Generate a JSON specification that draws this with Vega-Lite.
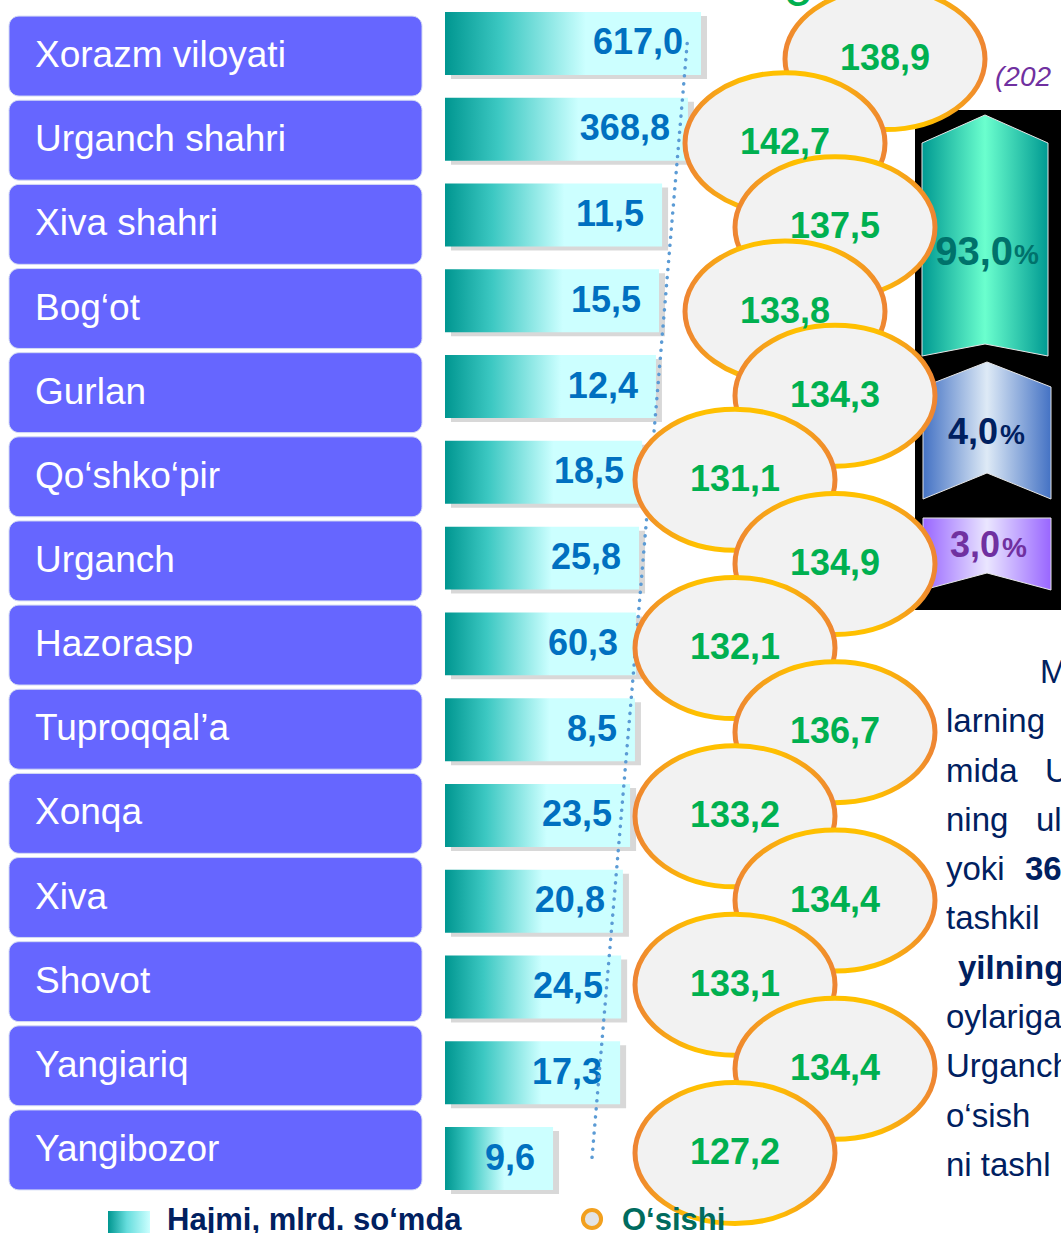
{
"$schema":"https://vega.github.io/schema/vega-lite/v6.json",
"width":1061,"height":1233,"padding":0,"autosize":{"type":"none"},"background":"#FFFFFF",
"config":{"view":{"stroke":null},"axis":{"disable":true},"font":"Liberation Sans","locale":{"number":{"decimal":",","thousands":"\u00a0","grouping":[3],"currency":["",""]}}},
"datasets":{
"rows":[
{"region":"Xorazm viloyati","hajm":617.0,"osish":138.9,"bar":100},
{"region":"Urganch  shahri","hajm":368.8,"osish":142.7,"bar":94.9},
{"region":"Xiva shahri","hajm":11.5,"osish":137.5,"bar":84.8},
{"region":"Bog‘ot","hajm":15.5,"osish":133.8,"bar":83.6},
{"region":"Gurlan","hajm":12.4,"osish":134.3,"bar":82.4},
{"region":"Qo‘shko‘pir","hajm":18.5,"osish":131.1,"bar":77.0},
{"region":"Urganch","hajm":25.8,"osish":134.9,"bar":75.8},
{"region":"Hazorasp","hajm":60.3,"osish":132.1,"bar":74.6},
{"region":"Tuproqqal’a","hajm":8.5,"osish":136.7,"bar":74.2},
{"region":"Xonqa","hajm":23.5,"osish":133.2,"bar":72.3},
{"region":"Xiva","hajm":20.8,"osish":134.4,"bar":69.5},
{"region":"Shovot","hajm":24.5,"osish":133.1,"bar":68.8},
{"region":"Yangiariq","hajm":17.3,"osish":134.4,"bar":68.4},
{"region":"Yangibozor","hajm":9.6,"osish":127.2,"bar":42.2}
],
"trend":[{"region":"Xorazm viloyati","t":94.6},{"region":"Yangibozor","t":57.4}],
"shares":[{"group":"a","share":93.0},{"group":"b","share":4.0},{"group":"c","share":3.0}]
},
"resolve":{"scale":{"x":"independent","y":"independent"}},
"layer":[
{
"layer":[
{"data":{"values":[{}]},"mark":{"type":"rect","fill":"#000000"},
 "encoding":{"x":{"datum":915,"type":"quantitative","scale":{"domain":[0,1061],"nice":false,"zero":false},"axis":null},"x2":{"datum":1075},
 "y":{"datum":110,"type":"quantitative","scale":{"domain":[0,1233],"nice":false,"zero":false,"reverse":true},"axis":null},"y2":{"datum":610}}},
{"data":{"name":"shares"},"transform":[{"filter":{"field":"group","equal":"a"}}],
 "mark":{"type":"point","shape":"M-1,-1.468L0,-1.913L1,-1.468L1,1.913L0,1.722L-1,1.913Z","size":15876,"filled":true,"opacity":1,
  "fill":{"gradient":"linear","x1":0,"y1":0,"x2":1,"y2":0,"stops":[{"offset":0,"color":"#009A92"},{"offset":0.5,"color":"#6BFFCE"},{"offset":1,"color":"#009A92"}]},"stroke":"#E6E6E6","strokeWidth":1},
 "encoding":{"x":{"datum":985,"type":"quantitative"},"y":{"datum":235.5,"type":"quantitative"}}},
{"data":{"name":"shares"},"transform":[{"filter":{"field":"group","equal":"b"}}],
 "mark":{"type":"point","shape":"M-1,-0.688L0,-1.078L1,-0.688L1,1.063L0,0.656L-1,1.063Z","size":16384,"filled":true,"opacity":1,
  "fill":{"gradient":"linear","x1":0,"y1":0,"x2":1,"y2":0,"stops":[{"offset":0,"color":"#4472C4"},{"offset":0.5,"color":"#DEEAF6"},{"offset":1,"color":"#4472C4"}]},"stroke":"#E6E6E6","strokeWidth":1},
 "encoding":{"x":{"datum":987,"type":"quantitative"},"y":{"datum":431,"type":"quantitative"}}},
{"data":{"name":"shares"},"transform":[{"filter":{"field":"group","equal":"c"}}],
 "mark":{"type":"point","shape":"M-1,-0.578L1,-0.578L1,0.547L0,0.281L-1,0.547Z","size":16384,"filled":true,"opacity":1,
  "fill":{"gradient":"linear","x1":0,"y1":0,"x2":1,"y2":0,"stops":[{"offset":0,"color":"#9966FF"},{"offset":0.5,"color":"#EAE6FF"},{"offset":1,"color":"#9966FF"}]},"stroke":"#E6E6E6","strokeWidth":1},
 "encoding":{"x":{"datum":987,"type":"quantitative"},"y":{"datum":555,"type":"quantitative"}}}
]
},
{
"data":{"values":[{}]},
"layer":[
{"mark":{"type":"text","text":"M","fontSize":33,"align":"left","baseline":"alphabetic","color":"#002060"},
 "encoding":{"x":{"datum":1040,"type":"quantitative","scale":{"domain":[0,1061],"nice":false,"zero":false},"axis":null},
 "y":{"datum":683,"type":"quantitative","scale":{"domain":[0,1233],"nice":false,"zero":false,"reverse":true},"axis":null}}},
{"mark":{"type":"text","text":["larning","mida\u00a0\u00a0\u00a0U","ning\u00a0\u00a0\u00a0ul","yoki","tashkil"],
  "fontSize":33,"lineHeight":49.3,"align":"left","baseline":"alphabetic","color":"#002060"},
 "encoding":{"x":{"datum":946,"type":"quantitative"},"y":{"datum":732.3,"type":"quantitative"}}},
{"mark":{"type":"text","text":["oylariga","Urganch","o‘sish","ni tashl"],
  "fontSize":33,"lineHeight":49.3,"align":"left","baseline":"alphabetic","color":"#002060"},
 "encoding":{"x":{"datum":946,"type":"quantitative"},"y":{"datum":1028.1,"type":"quantitative"}}},
{"mark":{"type":"text","text":"36","fontSize":33,"fontWeight":"bold","align":"left","baseline":"alphabetic","color":"#002060"},
 "encoding":{"x":{"datum":1025,"type":"quantitative"},"y":{"datum":880.2,"type":"quantitative"}}},
{"mark":{"type":"text","text":"yilning","fontSize":33,"fontWeight":"bold","align":"left","baseline":"alphabetic","color":"#002060"},
 "encoding":{"x":{"datum":958,"type":"quantitative"},"y":{"datum":978.8,"type":"quantitative"}}},
{"mark":{"type":"text","text":"(202","fontSize":28,"fontStyle":"italic","align":"left","baseline":"alphabetic","color":"#7030A0"},
 "encoding":{"x":{"datum":995,"type":"quantitative"},"y":{"datum":86,"type":"quantitative"}}},
{"mark":{"type":"text","text":"O‘sish","fontSize":34,"fontWeight":"bold","align":"left","baseline":"alphabetic","color":"#00B050"},
 "encoding":{"x":{"datum":785,"type":"quantitative"},"y":{"datum":6,"type":"quantitative"}}}
]
},
{
"data":{"name":"rows"},
"encoding":{"y":{"field":"region","type":"nominal","scale":{"domain":["Xorazm viloyati","Urganch  shahri","Xiva shahri","Bog‘ot","Gurlan","Qo‘shko‘pir","Urganch","Hazorasp","Tuproqqal’a","Xonqa","Xiva","Shovot","Yangiariq","Yangibozor"],"range":[12,1190],"paddingInner":0.266,"paddingOuter":0},"axis":null}},
"layer":[
{"mark":{"type":"rect","fill":"#7F7F7F","opacity":0.3,"xOffset":6,"x2Offset":6,"yOffset":4,"y2Offset":4},
 "encoding":{"x":{"field":"bar","type":"quantitative","scale":{"domain":[0,100],"range":[445,701],"nice":false,"zero":false},"axis":null},"x2":{"datum":0}}},
{"mark":{"type":"rect","fill":{"gradient":"linear","x1":0,"y1":0,"x2":1,"y2":0,"stops":[{"offset":0,"color":"#009690"},{"offset":0.22,"color":"#3CC8C2"},{"offset":0.55,"color":"#CCFFFF"},{"offset":1,"color":"#CCFFFF"}]}},
 "encoding":{"x":{"field":"bar","type":"quantitative"},"x2":{"datum":0}}},
{"mark":{"type":"text","color":"#0070C0","fontSize":36,"fontWeight":"bold","align":"right","baseline":"middle","dx":-18},
 "encoding":{"x":{"field":"bar","type":"quantitative"},"text":{"field":"hajm","type":"quantitative","format":".1f"}}},
{"data":{"name":"trend"},"mark":{"type":"line","color":"#5B9BD5","strokeWidth":3.5,"strokeDash":[0.1,8],"strokeCap":"round"},
 "encoding":{"x":{"field":"t","type":"quantitative"},"y":{"field":"region","type":"nominal"}}}
]
},
{
"data":{"name":"rows"},
"encoding":{"y":{"field":"region","type":"nominal","scale":{"domain":["Xorazm viloyati","Urganch  shahri","Xiva shahri","Bog‘ot","Gurlan","Qo‘shko‘pir","Urganch","Hazorasp","Tuproqqal’a","Xonqa","Xiva","Shovot","Yangiariq","Yangibozor"],"range":[14,1192],"paddingInner":0.05,"paddingOuter":0.025},"axis":null}},
"layer":[
{"mark":{"type":"rect","fill":"#6666FF","cornerRadius":10,"stroke":"#D3DAF4","strokeWidth":1},
 "encoding":{"x":{"datum":9,"type":"quantitative","scale":{"domain":[0,1061],"nice":false,"zero":false},"axis":null},"x2":{"datum":422}}},
{"mark":{"type":"text","color":"#FFFFFF","fontSize":37,"align":"left","baseline":"middle"},
 "encoding":{"x":{"datum":35,"type":"quantitative"},"text":{"field":"region","type":"nominal"}}}
]
},
{
"data":{"name":"rows"},
"transform":[{"window":[{"op":"row_number","as":"k"}]},{"calculate":"datum.k == 1 ? 'top-right' : (datum.k == 2 || datum.k == 4) ? 'top-left' : (datum.k % 2 == 1 ? 'right' : 'left')","as":"lane"}],
"encoding":{
 "x":{"field":"lane","type":"nominal","scale":{"type":"point","domain":["left","top-left","right","top-right"],"range":[735,885],"padding":0},"axis":null},
 "y":{"field":"region","type":"nominal","scale":{"domain":["Xorazm viloyati","Urganch  shahri","Xiva shahri","Bog‘ot","Gurlan","Qo‘shko‘pir","Urganch","Hazorasp","Tuproqqal’a","Xonqa","Xiva","Shovot","Yangiariq","Yangibozor"],"range":[14,1192],"paddingInner":0.05,"paddingOuter":0.025},"axis":null}},
"layer":[
{"mark":{"type":"point","shape":"M-1,0C-1,-0.3894,-0.5523,-0.705,0,-0.705C0.5523,-0.705,1,-0.3894,1,0C1,0.3894,0.5523,0.705,0,0.705C-0.5523,0.705,-1,0.3894,-1,0Z","size":40000,"filled":true,"opacity":1,"fill":"#F2F2F2",
  "stroke":{"gradient":"linear","x1":0,"y1":0,"x2":1,"y2":0,"stops":[{"offset":0,"color":"#EE8533"},{"offset":0.3,"color":"#FFC000"},{"offset":0.7,"color":"#FFC000"},{"offset":1,"color":"#EE8533"}]},"strokeWidth":5,"yOffset":3}},
{"mark":{"type":"text","color":"#00B050","fontSize":36,"fontWeight":"bold","align":"center","baseline":"middle","yOffset":3},
 "encoding":{"text":{"field":"osish","type":"quantitative","format":".1f"}}}
]
},
{
"layer":[
{"data":{"name":"shares"},"transform":[{"filter":{"field":"group","equal":"a"}}],
 "mark":{"type":"text","color":"#00726B","fontSize":40,"fontWeight":"bold","align":"right","baseline":"middle"},
 "encoding":{"x":{"datum":1013,"type":"quantitative","scale":{"domain":[0,1061],"nice":false,"zero":false},"axis":null},
 "y":{"datum":253,"type":"quantitative","scale":{"domain":[0,1233],"nice":false,"zero":false,"reverse":true},"axis":null},
 "text":{"field":"share","type":"quantitative","format":".1f"}}},
{"data":{"values":[{}]},"mark":{"type":"text","text":"%","color":"#00726B","fontSize":28,"fontWeight":"bold","align":"left","baseline":"middle"},
 "encoding":{"x":{"datum":1014,"type":"quantitative"},"y":{"datum":256,"type":"quantitative"}}},
{"data":{"name":"shares"},"transform":[{"filter":{"field":"group","equal":"b"}}],
 "mark":{"type":"text","color":"#002060","fontSize":36,"fontWeight":"bold","align":"right","baseline":"middle"},
 "encoding":{"x":{"datum":998,"type":"quantitative"},"y":{"datum":433,"type":"quantitative"},"text":{"field":"share","type":"quantitative","format":".1f"}}},
{"data":{"values":[{}]},"mark":{"type":"text","text":"%","color":"#002060","fontSize":28,"fontWeight":"bold","align":"left","baseline":"middle"},
 "encoding":{"x":{"datum":1000,"type":"quantitative"},"y":{"datum":436,"type":"quantitative"}}},
{"data":{"name":"shares"},"transform":[{"filter":{"field":"group","equal":"c"}}],
 "mark":{"type":"text","color":"#7030A0","fontSize":36,"fontWeight":"bold","align":"right","baseline":"middle"},
 "encoding":{"x":{"datum":1000,"type":"quantitative"},"y":{"datum":546,"type":"quantitative"},"text":{"field":"share","type":"quantitative","format":".1f"}}},
{"data":{"values":[{}]},"mark":{"type":"text","text":"%","color":"#7030A0","fontSize":28,"fontWeight":"bold","align":"left","baseline":"middle"},
 "encoding":{"x":{"datum":1002,"type":"quantitative"},"y":{"datum":549,"type":"quantitative"}}}
]
},
{
"data":{"values":[{}]},
"layer":[
{"mark":{"type":"rect","fill":{"gradient":"linear","x1":0,"y1":0,"x2":1,"y2":0,"stops":[{"offset":0,"color":"#009690"},{"offset":0.45,"color":"#66DDDD"},{"offset":1,"color":"#CCFFFF"}]}},
 "encoding":{"x":{"datum":108,"type":"quantitative","scale":{"domain":[0,1061],"nice":false,"zero":false},"axis":null},"x2":{"datum":150},
 "y":{"datum":1211,"type":"quantitative","scale":{"domain":[0,1233],"nice":false,"zero":false,"reverse":true},"axis":null},"y2":{"datum":1245}}},
{"mark":{"type":"text","text":"Hajmi, mlrd. so‘mda","color":"#002060","fontSize":31,"fontWeight":"bold","align":"left","baseline":"alphabetic"},
 "encoding":{"x":{"datum":167,"type":"quantitative"},"y":{"datum":1230,"type":"quantitative"}}},
{"mark":{"type":"point","shape":"circle","size":330,"filled":true,"opacity":1,"fill":"#E3E3E3","stroke":"#F2A01E","strokeWidth":4},
 "encoding":{"x":{"datum":592,"type":"quantitative"},"y":{"datum":1219,"type":"quantitative"}}},
{"mark":{"type":"text","text":"O‘sishi","color":"#006B5E","fontSize":31,"fontWeight":"bold","align":"left","baseline":"alphabetic"},
 "encoding":{"x":{"datum":622,"type":"quantitative"},"y":{"datum":1230,"type":"quantitative"}}}
]
}
]
}
